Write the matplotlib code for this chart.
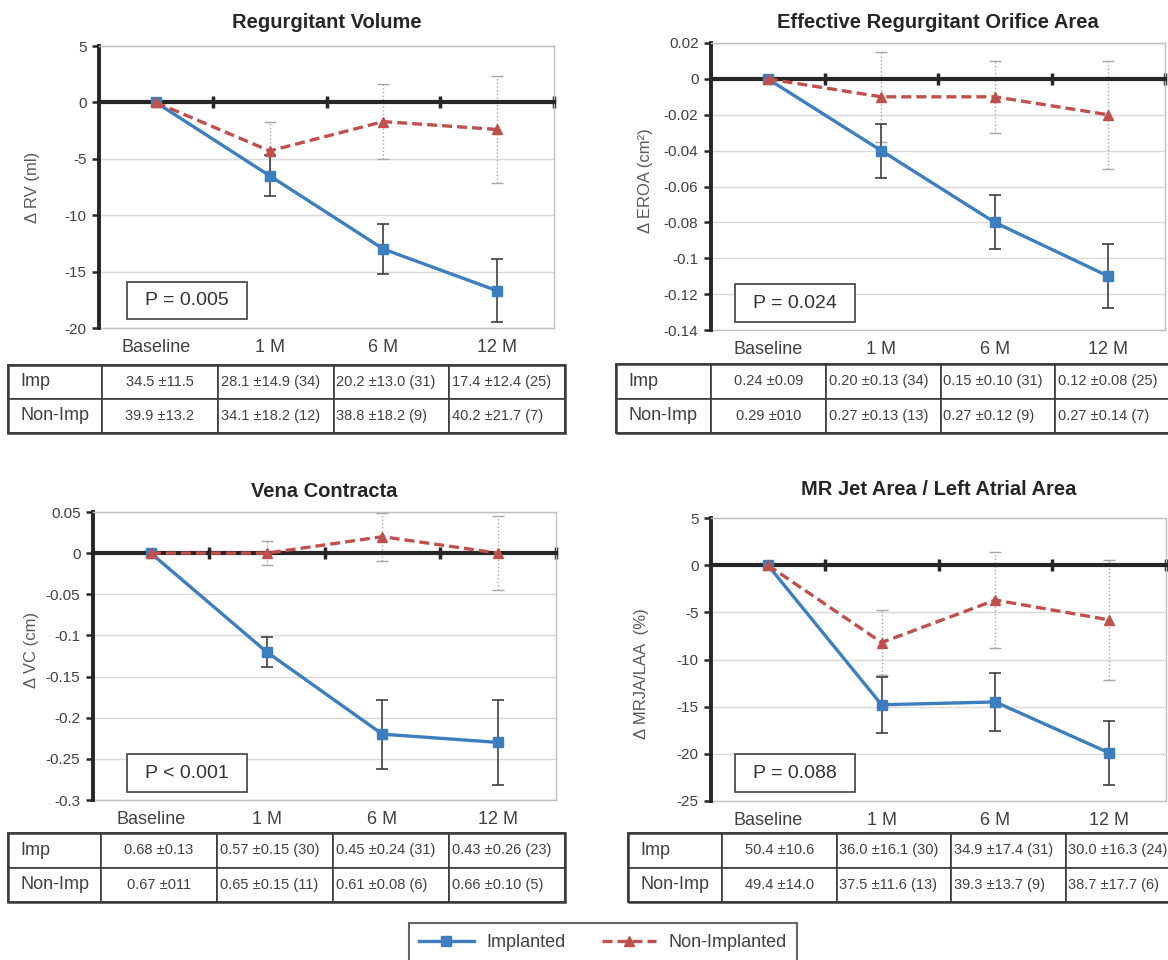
import matplotlib.pyplot as plt
from matplotlib import font_manager
from matplotlib.table import Table
from matplotlib.patches import Rectangle
import numpy as np

plt.rcParams['font.family'] = ['Liberation Sans', 'DejaVu Sans']
plt.rcParams['axes.unicode_minus'] = False

W, H = 1168, 960
BLUE = '#3d7ebf'
RED = '#c0504d'
DARK = '#262626'
TXT = '#404040'

# narrow face for the table numbers, if it is there
installed = {f.name for f in font_manager.fontManager.ttflist}
NARROW = 'Liberation Sans Narrow' if 'Liberation Sans Narrow' in installed else 'Liberation Sans'
NARROW_SIZE = 11.5 if NARROW == 'Liberation Sans Narrow' else 10.5

categories = ['Baseline', '1 M', '6 M', '12 M']
row_names = ['Imp', 'Non-Imp']

# Regurgitant volume (ml)
rv_imp = [0, -6.5, -13.0, -16.7]
rv_imp_err = [0, 1.8, 2.2, 2.8]
rv_non = [0, -4.3, -1.7, -2.4]
rv_non_err = [0, 2.6, 3.35, 4.75]
rv_ticks = [-20, -15, -10, -5, 0, 5]
rv_imp_cells = ['34.5 ±11.5', '28.1 ±14.9 (34)', '20.2 ±13.0 (31)', '17.4 ±12.4 (25)']
rv_non_cells = ['39.9 ±13.2', '34.1 ±18.2 (12)', '38.8 ±18.2 (9)', '40.2 ±21.7 (7)']

# Effective regurgitant orifice area (cm2)
eroa_imp = [0, -0.04, -0.08, -0.11]
eroa_imp_err = [0, 0.015, 0.015, 0.018]
eroa_non = [0, -0.01, -0.01, -0.02]
eroa_non_err = [0, 0.025, 0.02, 0.03]
eroa_ticks = [-0.14, -0.12, -0.1, -0.08, -0.06, -0.04, -0.02, 0, 0.02]
eroa_imp_cells = ['0.24 ±0.09', '0.20 ±0.13 (34)', '0.15 ±0.10 (31)', '0.12 ±0.08 (25)']
eroa_non_cells = ['0.29 ±010', '0.27 ±0.13 (13)', '0.27 ±0.12 (9)', '0.27 ±0.14 (7)']

# Vena contracta (cm)
vc_imp = [0, -0.12, -0.22, -0.23]
vc_imp_err = [0, 0.018, 0.042, 0.052]
vc_non = [0, 0, 0.02, 0]
vc_non_err = [0, 0.015, 0.029, 0.045]
vc_ticks = [-0.3, -0.25, -0.2, -0.15, -0.1, -0.05, 0, 0.05]
vc_imp_cells = ['0.68 ±0.13', '0.57 ±0.15 (30)', '0.45 ±0.24 (31)', '0.43 ±0.26 (23)']
vc_non_cells = ['0.67 ±011', '0.65 ±0.15 (11)', '0.61 ±0.08 (6)', '0.66 ±0.10 (5)']

# MR jet area / left atrial area (%)
mr_imp = [0, -14.8, -14.5, -19.9]
mr_imp_err = [0, 2.95, 3.1, 3.4]
mr_non = [0, -8.2, -3.7, -5.8]
mr_non_err = [0, 3.4, 5.1, 6.4]
mr_ticks = [-25, -20, -15, -10, -5, 0, 5]
mr_imp_cells = ['50.4 ±10.6', '36.0 ±16.1 (30)', '34.9 ±17.4 (31)', '30.0 ±16.3 (24)']
mr_non_cells = ['49.4 ±14.0', '37.5 ±11.6 (13)', '39.3 ±13.7 (9)', '38.7 ±17.7 (6)']


def rect(left, top, right, bottom):
    # pixel box -> figure fraction
    return [left / W, 1 - bottom / H, (right - left) / W, (bottom - top) / H]


fig = plt.figure(figsize=(W / 100, H / 100), dpi=100)


def panel(box, tbox, label_w, title, title_y, ylabel, label_x, label_y, ticks,
          imp, imp_err, non, non_err, pval, pbox, imp_cells, non_cells):
    left, top, right, bottom = box
    ax = fig.add_axes(rect(*box))
    x = np.arange(len(categories))
    ax.set_xlim(-0.5, len(categories) - 0.5)
    ax.set_ylim(ticks[0], ticks[-1])
    ax.set_yticks(ticks, ['%g' % t for t in ticks])
    ax.yaxis.grid(True, color='#d9d9d9', lw=1)
    ax.set_axisbelow(True)

    # zero line carries the category boundary ticks
    ax.spines['bottom'].set_position(('data', 0))
    ax.spines['bottom'].set_linewidth(3)
    ax.spines['bottom'].set_color(DARK)
    ax.set_xticks(x + 0.5)
    ax.tick_params(axis='x', direction='inout', length=8, width=2.5, color=DARK, labelbottom=False)
    ax.spines['left'].set_linewidth(2.8)
    ax.spines['left'].set_color(DARK)
    ax.tick_params(axis='y', length=5, width=1.8, color=DARK, labelsize=11, labelcolor=TXT, pad=4)
    for s in ['top', 'right']:
        ax.spines[s].set_color('#bfbfbf')
        ax.spines[s].set_linewidth(1)

    sec = ax.secondary_xaxis('bottom')
    sec.set_xticks(x, categories)
    sec.tick_params(length=0, pad=8, labelsize=13, labelcolor=TXT)
    sec.spines['bottom'].set_color('#bfbfbf')
    sec.spines['bottom'].set_linewidth(1)

    eb = ax.errorbar(x, non, yerr=non_err, fmt='none', ecolor='#a6a6a6', elinewidth=1,
                     capsize=4, capthick=1, zorder=2)
    eb[2][0].set_linestyle(':')
    ax.errorbar(x, imp, yerr=imp_err, fmt='none', ecolor='#404040', elinewidth=1.2,
                capsize=4, capthick=1.2, zorder=2)
    ax.plot(x, imp, color=BLUE, lw=2.4, marker='s', ms=7, zorder=3, label='Implanted')
    ax.plot(x, non, color=RED, lw=2.4, ls=(0, (3, 1.5)), marker='^', ms=7, zorder=4,
            label='Non-Implanted')

    ax.set_ylabel(ylabel, fontsize=12, color='#595959')
    ax.yaxis.set_label_coords(-(left - label_x) / (right - left), label_y)

    fig.text((left + right) / 2 / W, 1 - title_y / H, title, ha='center', va='center',
             fontsize=14.5, fontweight='bold', color=DARK)

    # p value box
    pl, pt, pr, pb = pbox
    bx = (pl - left) / (right - left)
    by = (bottom - pb) / (bottom - top)
    bw = (pr - pl) / (right - left)
    bh = (pb - pt) / (bottom - top)
    ax.add_patch(Rectangle((bx, by), bw, bh, transform=ax.transAxes, fc='white',
                           ec='#404040', lw=1.2, zorder=5))
    ax.text(bx + bw / 2, by + bh / 2, pval, transform=ax.transAxes, ha='center',
            va='center', fontsize=14, color='#333333', zorder=6)

    # summary table
    tax = fig.add_axes(rect(*tbox))
    tax.axis('off')
    tb = Table(tax, bbox=[0, 0, 1, 1])
    widths = [label_w] + [(1 - label_w) / 4] * 4
    for r, (name, cells) in enumerate(zip(row_names, [imp_cells, non_cells])):
        for c, txt in enumerate([name] + cells):
            cell = tb.add_cell(r, c, width=widths[c], height=0.5, text=txt,
                               loc='center' if c == 1 else 'left', edgecolor='#3a3a3a')
            cell.set_linewidth(1.2)
            cell.PAD = 0.13 if c == 0 else 0.025
            t = cell.get_text()
            t.set_color(TXT)
            if c == 0:
                t.set_fontsize(13)
            else:
                t.set_fontsize(NARROW_SIZE)
                t.set_fontfamily(NARROW)
    tb.auto_set_font_size(False)
    tax.add_table(tb)
    tax.add_patch(Rectangle((0, 0), 1, 1, transform=tax.transAxes, fill=False,
                            ec='#3a3a3a', lw=1.8, clip_on=False))
    return ax


ax1 = panel((99, 46, 554, 328), (8, 365, 565, 433), 94 / 557,
            'Regurgitant Volume', 23, 'Δ RV (ml)', 40, 0.5, rv_ticks,
            rv_imp, rv_imp_err, rv_non, rv_non_err, 'P = 0.005', (127, 282, 247, 319),
            rv_imp_cells, rv_non_cells)
panel((711, 43, 1165, 330), (616, 364, 1170, 433), 95 / 554,
      'Effective Regurgitant Orifice Area', 23, 'Δ EROA (cm²)', 653, 0.52, eroa_ticks,
      eroa_imp, eroa_imp_err, eroa_non, eroa_non_err, 'P = 0.024', (735, 284, 855, 322),
      eroa_imp_cells, eroa_non_cells)
panel((93, 512, 556, 800), (8, 833, 565, 902), 93 / 557,
      'Vena Contracta', 492, 'Δ VC (cm)', 39, 0.52, vc_ticks,
      vc_imp, vc_imp_err, vc_non, vc_non_err, 'P < 0.001', (127, 754, 247, 792),
      vc_imp_cells, vc_non_cells)
panel((711, 518, 1166, 801), (628, 833, 1180, 902), 94 / 552,
      'MR Jet Area / Left Atrial Area', 490, 'Δ MRJA/LAA  (%)', 649, 0.45, mr_ticks,
      mr_imp, mr_imp_err, mr_non, mr_non_err, 'P = 0.088', (735, 754, 855, 792),
      mr_imp_cells, mr_non_cells)

handles, labels = ax1.get_legend_handles_labels()
leg = fig.legend(handles, labels, loc='upper center', bbox_to_anchor=(603 / W, 1 - 923 / H),
                 ncol=2, fontsize=13, frameon=True, fancybox=False, edgecolor='#404040',
                 borderpad=0.6, borderaxespad=0, handlelength=3.0, handletextpad=0.7,
                 columnspacing=2.0, labelcolor=TXT)
leg.get_frame().set_linewidth(1.5)

fig.savefig('out.png', dpi=100)
